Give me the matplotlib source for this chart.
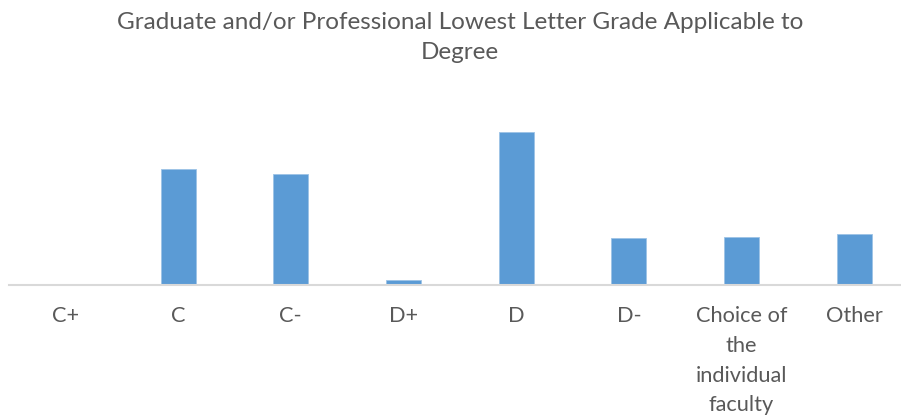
import numpy as np
import matplotlib
matplotlib.use("Agg")
import matplotlib.pyplot as plt

plt.rcParams['font.family'] = ['Lato', 'DejaVu Sans']

grades = ["C+", "C", "C-", "D+", "D", "D-",
          "Choice of\nthe\nindividual\nfaculty", "Other"]
counts = [0, 115, 110, 4.7, 152, 46, 47, 50]

title = "Graduate and/or Professional Lowest Letter Grade Applicable to\nDegree"
bar_color = "#5B9BD5"
text_color = "#595959"

fig = plt.figure(figsize=(9.01, 4.17), dpi=100)
W, H = 901, 417
base_y = 284.5
top_y = 120
ax = fig.add_axes([9 / W, (H - base_y) / H, 901.6 / W, (base_y - top_y) / H])

x = np.arange(len(grades))
ax.bar(x, counts, width=0.31, color=bar_color, edgecolor="#9DC3E6", linewidth=0.6)
ax.set_xlim(-0.5, len(grades) - 0.5)
ax.set_ylim(0, 164)

for side in ["left", "right", "top"]:
    ax.spines[side].set_visible(False)
ax.spines["bottom"].set_color("#D9D9D9")
ax.spines["bottom"].set_linewidth(1.5)
ax.set_yticks([])
ax.set_xticks(x)
ax.set_xticklabels(grades, fontsize=15.7, color=text_color, linespacing=1.61,
                   va="top", ha="center")
ax.tick_params(axis="x", length=0, pad=15.5)

fig.text(460 / W, 1 - 37.5 / H, title, ha="center", va="center", fontsize=17.5,
         color=text_color, linespacing=1.52)

fig.savefig("out.png", dpi=100)
